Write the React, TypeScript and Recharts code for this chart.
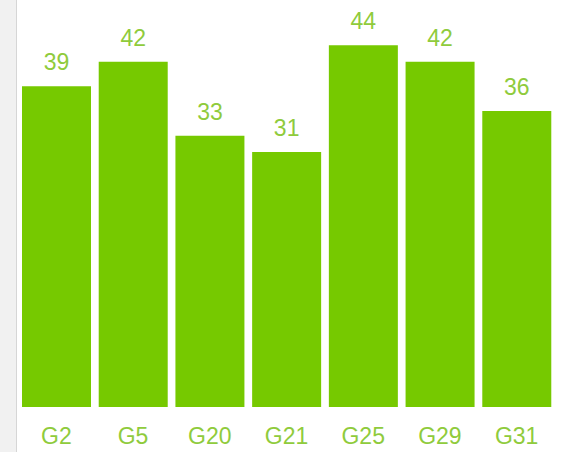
import React from 'react';
import { BarChart, Bar, XAxis, YAxis, LabelList } from 'recharts';

const groups = ['G2', 'G5', 'G20', 'G21', 'G25', 'G29', 'G31'];
const counts = [39, 42, 33, 31, 44, 42, 36];

const data = groups.map((g, i) => ({ group: g, count: counts[i] }));

const BAR_COLOR = '#76c900';
const TEXT_COLOR = '#8fcb3c';
const FONT = '"Liberation Sans", Arial, sans-serif';

export default function App() {
  return (
    <div style={{ position: 'absolute', left: 0, top: 0, width: 564, height: 452, background: '#fff', overflow: 'hidden' }}>
      <div
        style={{
          position: 'absolute',
          left: 0,
          top: 0,
          width: 16,
          height: 452,
          background: '#f1f1f1',
          borderRight: '1px solid #d6d6d6',
        }}
      />
      <BarChart
        width={564}
        height={452}
        data={data}
        margin={{ top: 0, right: 9, bottom: 0, left: 18 }}
        style={{ position: 'absolute', left: 0, top: 0 }}
      >
        <XAxis
          dataKey="group"
          axisLine={false}
          tickLine={false}
          tickSize={0}
          tickMargin={21}
          height={45}
          interval={0}
          tick={{ fill: TEXT_COLOR, fontSize: 23, fontFamily: FONT }}
        />
        <YAxis hide domain={[0, 49.5]} allowDataOverflow />
        <Bar dataKey="count" fill={BAR_COLOR} barSize={69} isAnimationActive={false}>
          <LabelList
            dataKey="count"
            position="top"
            offset={16}
            fill={TEXT_COLOR}
            fontSize={23}
            fontFamily={FONT}
          />
        </Bar>
      </BarChart>
    </div>
  );
}
